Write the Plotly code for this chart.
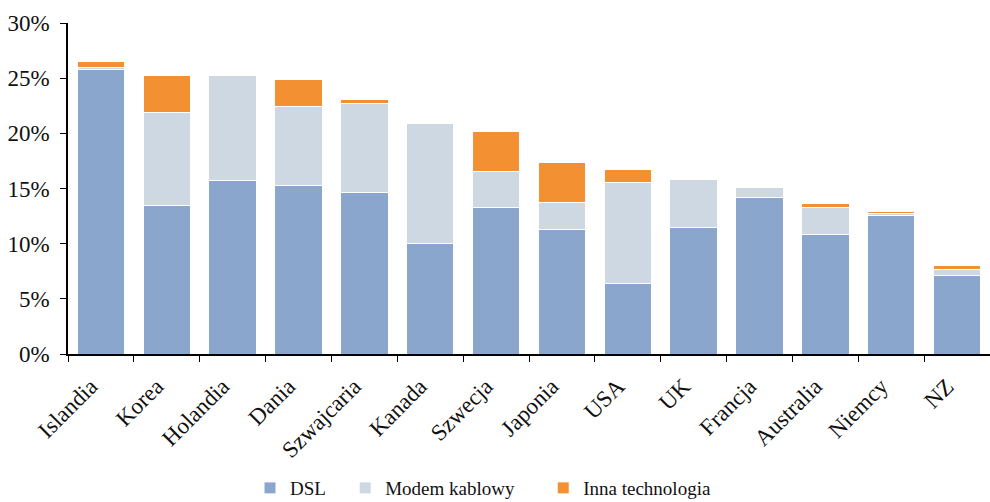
import plotly.graph_objects as go

# Broadband subscribers per 100 inhabitants, split by access technology
countries = ["Islandia", "Korea", "Holandia", "Dania", "Szwajcaria", "Kanada", "Szwecja",
             "Japonia", "USA", "UK", "Francja", "Australia", "Niemcy", "NZ"]
dsl = [25.8, 13.5, 15.7, 15.3, 14.6, 10.0, 13.3, 11.3, 6.4, 11.5, 14.2, 10.8, 12.55, 7.1]
cable = [0.2, 8.35, 9.5, 7.1, 8.1, 10.9, 3.25, 2.4, 9.1, 4.3, 0.9, 2.5, 0.2, 0.55]
other = [0.5, 3.35, 0.0, 2.5, 0.35, 0.0, 3.6, 3.7, 1.2, 0.0, 0.0, 0.3, 0.15, 0.35]

NBSP = "\u00a0"  # extra room between legend entries
series = [
    ("DSL" + NBSP * 3, dsl, "#8AA6CC"),
    ("Modem kablowy" + NBSP * 5, cable, "#CDD8E3"),
    ("Inna technologia", other, "#F39031"),
]

font_family = "Liberation Serif, Times New Roman, serif"
ink = "#111111"

fig = go.Figure()
for name, vals, color in series:
    fig.add_trace(go.Bar(
        x=countries, y=[v / 100 for v in vals], name=name,
        marker=dict(color=color, line=dict(color="white", width=1)),
    ))

fig.update_layout(
    barmode="stack",
    bargap=0.28,
    width=990, height=502,
    margin=dict(l=68, r=0, t=23, b=148, autoexpand=False),
    paper_bgcolor="white", plot_bgcolor="white",
    font=dict(family=font_family, color=ink),
    showlegend=True,
    legend=dict(orientation="h", xref="container", yref="paper",
                x=250 / 990, xanchor="left", y=-0.405, yanchor="middle",
                font=dict(size=19, family=font_family, color=ink),
                traceorder="normal", itemwidth=30),
    xaxis=dict(
        tickangle=-45, tickfont=dict(size=23, family=font_family, color=ink),
        showline=True, linecolor="black", linewidth=1.5,
        ticks="outside", tickson="boundaries", ticklen=6, tickcolor="black",
        ticklabelshift=-10, ticklabelstandoff=8,
        showgrid=False, automargin=False,
    ),
    yaxis=dict(
        range=[0, 0.3], tickformat=".0%", dtick=0.05,
        tickfont=dict(size=23, family=font_family, color=ink),
        showline=True, linecolor="black", linewidth=1.5,
        ticks="outside", ticklen=6, tickcolor="black", ticklabelstandoff=6,
        showgrid=False, zeroline=False, automargin=False,
    ),
)

fig.write_html("out.html")
